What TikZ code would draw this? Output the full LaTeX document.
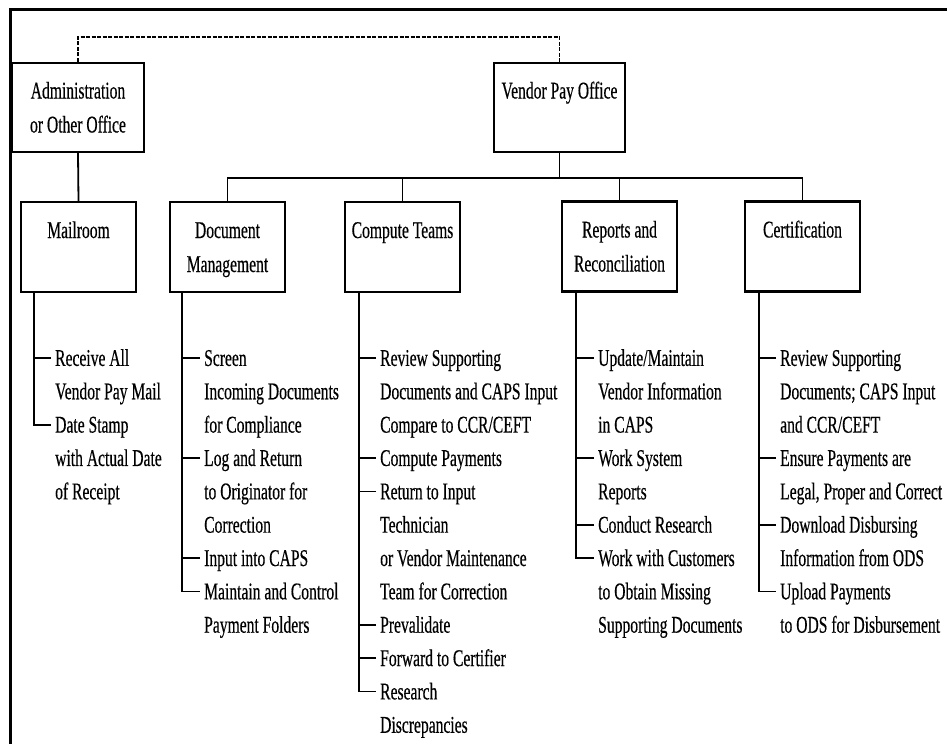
\documentclass[tikz,border=0pt]{standalone}
\usepackage{fontspec}
\setmainfont{Liberation Serif}[FakeStretch=0.65,FakeBold=0.4]
\newcommand\dfont{\fontsize{24}{34}\selectfont}
\newcommand\bstrut{\rule[-6pt]{0pt}{28pt}}
\tikzset{
  orgbox/.style={draw, line width=2.1pt, inner sep=0pt, align=center, font=\dfont,
                 minimum width=115pt, minimum height=90pt},
  item/.style={anchor=west, inner sep=0pt, text height=15.8pt, text depth=0pt, font=\dfont},
  conn/.style={line width=1.8pt},
  frame/.style={line width=2.2pt},
  dotline/.style={line width=1.6pt, dash pattern=on 4pt off 1.5pt}
}
\begin{document}
\begin{tikzpicture}[x=1pt,y=-1pt]
\useasboundingbox (0,0) rectangle (947,744);
% frame (top and left edges)
\coordinate (ftl) at (10.5,9.5);
\coordinate (ftr) at (947,9.5);
\coordinate (fbl) at (10.5,744);
\draw[frame] (ftr) -- (ftl) -- (fbl);

% top-level boxes
\node[orgbox, minimum width=132pt, minimum height=89pt] (admin) at (78,107.5)
  {\bstrut Administration\\\bstrut or Other Office};
\node[orgbox, minimum width=131pt, minimum height=89pt] (vendor) at (559.5,107.5)
  {\bstrut Vendor Pay Office\\\bstrut};

% second-level boxes
\node[orgbox] (mail) at (78.5,247) {\bstrut Mailroom\\\bstrut};
\node[orgbox] (doc)  at (227.5,247) {\bstrut Document\\\bstrut Management};
\node[orgbox] (comp) at (402.5,247) {\bstrut Compute Teams\\\bstrut};
\node[orgbox] (rep)  at (619.5,246.5) {\bstrut Reports and\\\bstrut Reconciliation};
\node[orgbox] (cert) at (802.5,246.5) {\bstrut Certification\\\bstrut};

% connectors
\draw[dotline] (admin.north) -- ++(0,-25) -| (vendor.north);
\draw[conn] (admin.south) -- (mail.north);
\coordinate (bus) at (0,178);
\draw[conn] (vendor.south) -- (vendor.south |- bus);
\draw[conn] (doc.north) |- (bus -| cert.north) -- (cert.north);
\draw[conn] (comp.north) -- (comp.north |- bus);
\draw[conn] (rep.north) -- (rep.north |- bus);

% vertical spines
\coordinate (mav) at ([xshift=14pt]mail.south west);
\coordinate (dov) at ([xshift=13pt]doc.south west);
\coordinate (cov) at ([xshift=15pt]comp.south west);
\coordinate (rev) at ([xshift=15pt]rep.south west);
\coordinate (cev) at ([xshift=15pt]cert.south west);

% Mailroom items
\foreach \k/\t in {0/{Receive All},1/{Vendor Pay Mail},2/{Date Stamp},3/{with Actual Date},4/{of Receipt}}
  \node[item] (ma\k) at (55,358+33.35*\k) {\t};
% Document Management items
\foreach \k/\t in {0/{Screen},1/{Incoming Documents},2/{for Compliance},3/{Log and Return},
  4/{to Originator for},5/{Correction},6/{Input into CAPS},7/{Maintain and Control},8/{Payment Folders}}
  \node[item] (do\k) at (204,358+33.35*\k) {\t};
% Compute Teams items
\foreach \k/\t in {0/{Review Supporting},1/{Documents and CAPS Input},2/{Compare to CCR/CEFT},
  3/{Compute Payments},4/{Return to Input},5/{Technician},6/{or Vendor Maintenance},
  7/{Team for Correction},8/{Prevalidate},9/{Forward to Certifier},10/{Research},11/{Discrepancies}}
  \node[item] (co\k) at (380,358+33.35*\k) {\t};
% Reports items
\foreach \k/\t in {0/{Update/Maintain},1/{Vendor Information},2/{in CAPS},3/{Work System},4/{Reports},
  5/{Conduct Research},6/{Work with Customers},7/{to Obtain Missing},8/{Supporting Documents}}
  \node[item] (re\k) at (598,358+33.35*\k) {\t};
% Certification items
\foreach \k/\t in {0/{Review Supporting},1/{Documents; CAPS Input},2/{and CCR/CEFT},
  3/{Ensure Payments are},4/{Legal, Proper and Correct},5/{Download Disbursing},
  6/{Information from ODS},7/{Upload Payments},8/{to ODS for Disbursement}}
  \node[item] (ce\k) at (780,358+33.35*\k) {\t};

% spines with final corner
\draw[conn] (mav) |- ([xshift=-4pt]ma2.west);
\draw[conn] (dov) |- ([xshift=-4pt]do7.west);
\draw[conn] (cov) |- ([xshift=-4pt]co10.west);
\draw[conn] (rev) |- ([xshift=-4pt]re6.west);
\draw[conn] (cev) |- ([xshift=-4pt]ce7.west);

% ticks
\draw[conn] ([xshift=-4pt]ma0.west) -- (ma0.west -| mav);
\foreach \k in {0,3,6}
  \draw[conn] ([xshift=-4pt]do\k.west) -- (do\k.west -| dov);
\foreach \k in {0,3,4,8,9}
  \draw[conn] ([xshift=-4pt]co\k.west) -- (co\k.west -| cov);
\foreach \k in {0,3,5}
  \draw[conn] ([xshift=-4pt]re\k.west) -- (re\k.west -| rev);
\foreach \k in {0,3,5}
  \draw[conn] ([xshift=-4pt]ce\k.west) -- (ce\k.west -| cev);
\end{tikzpicture}
\end{document}
